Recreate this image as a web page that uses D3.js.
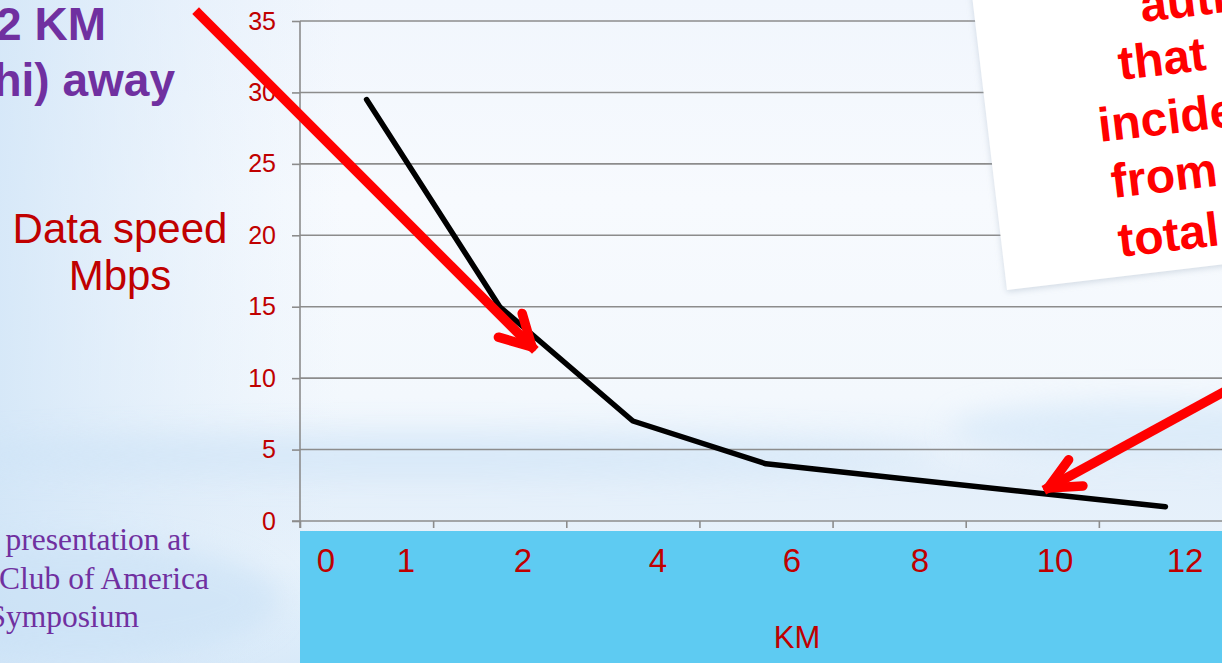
<!DOCTYPE html>
<html><head><meta charset="utf-8">
<script src="https://cdn.jsdelivr.net/npm/d3@7"></script>
<style>html,body{margin:0;padding:0;overflow:hidden;background:#eef5fc}</style>
</head><body>
<svg id="c" width="1222" height="663"></svg>
<script>
// ---- data ----
const categories = ["1","2","3","4","5","6","7"];
const speeds = [29.5, 15, 7, 4, 3, 2, 1];
const yTicks = [0, 5, 10, 15, 20, 25, 30, 35];
const kmValues = [0, 1, 2, 4, 6, 8, 10, 12];
const kmLabels = ["0", "1", "2", "4", "6", "8", "10", "12"];
const yTitle = ["Data speed", "Mbps"];
const xTitle = "KM";
const headLines = ["2 KM", "hi) away"];
const footLines = ["presentation at", "Club of America", "Symposium"];
const boxWords = ["auth", "that", "incide", "from", "total"];

const W = 1222, H = 663;
const svg = d3.select("#c");
const defs = svg.append("defs");
const SANS = "'Liberation Sans', Arial, sans-serif";
const SERIF = "'Liberation Serif', 'Times New Roman', serif";
const DARKRED = "#C00000", PURPLE = "#7030A0";

// ---- background ----
const bg = defs.append("linearGradient").attr("id","bg").attr("x1",0).attr("y1",0).attr("x2",0).attr("y2",1);
[[0,"#f1f6fd"],[0.3,"#f7fafe"],[0.6,"#f3f8fd"],[0.72,"#e4effa"],[0.85,"#e8f2fb"],[1,"#d9eaf9"]]
  .forEach(([o,c])=>bg.append("stop").attr("offset",o).attr("stop-color",c));
const lg = defs.append("linearGradient").attr("id","leftg").attr("x1",0).attr("y1",0).attr("x2",1).attr("y2",0);
[[0,"#cfe4f7",0.8],[0.28,"#dcebf9",0.0]].forEach(([o,c,a])=>lg.append("stop").attr("offset",o).attr("stop-color",c).attr("stop-opacity",a));
defs.append("filter").attr("id","blur").attr("x","-20%").attr("y","-200%").attr("width","140%").attr("height","500%")
  .append("feGaussianBlur").attr("stdDeviation",14);
const sh = defs.append("filter").attr("id","shadow").attr("x","-10%").attr("y","-10%").attr("width","130%").attr("height","130%");
sh.append("feDropShadow").attr("dx",0).attr("dy",2).attr("stdDeviation",3).attr("flood-color","#9aaabb").attr("flood-opacity",0.4);

svg.append("rect").attr("width",W).attr("height",H).attr("fill","url(#bg)");
svg.append("rect").attr("width",W).attr("height",H).attr("fill","url(#leftg)");
svg.append("ellipse").attr("cx",420).attr("cy",455).attr("rx",520).attr("ry",22).attr("fill","#cfe4f7").attr("opacity",0.6).attr("filter","url(#blur)");
svg.append("ellipse").attr("cx",1150).attr("cy",430).attr("rx",200).attr("ry",30).attr("fill","#d2e6f8").attr("opacity",0.6).attr("filter","url(#blur)");
svg.append("ellipse").attr("cx",80).attr("cy",600).attr("rx",200).attr("ry",60).attr("fill","#c9e1f6").attr("opacity",0.6).attr("filter","url(#blur)");

// ---- scales ----
const x = d3.scaleBand().domain(categories).range([300, 1232]).padding(0);
const xEdge = d3.scaleLinear().domain([0, categories.length]).range(x.range());
const y = d3.scaleLinear().domain([0, 35]).range([521, 21]);
const kmPos = d3.scaleLinear().domain([0, 1, 2, 4, 6, 8, 10, 12]).range([326, 406, 523, 658, 792, 920, 1055, 1185]);

const GRID = "#8c8c8c";
// gridlines
svg.append("g").selectAll("line").data(yTicks.filter(t=>t>0)).join("line")
  .attr("x1",300).attr("x2",W).attr("y1",d=>y(d)).attr("y2",d=>y(d))
  .attr("stroke",GRID).attr("stroke-width",1.6);

// y axis
const yAxis = svg.append("g").attr("transform","translate(300,0)")
  .call(d3.axisLeft(y).tickValues(yTicks).tickSize(8).tickPadding(16).tickSizeOuter(0));
yAxis.select(".domain").attr("stroke",GRID).attr("stroke-width",1.6).attr("d","M0,21V528");
yAxis.selectAll(".tick line").attr("stroke",GRID).attr("stroke-width",1.6);
yAxis.selectAll(".tick text").attr("fill",DARKRED).style("font-family",SANS).style("font-size","25px");

// x axis (ticks at band edges)
const xAxis = svg.append("g").attr("transform",`translate(0,${y(0)})`)
  .call(d3.axisBottom(xEdge).tickValues(d3.range(categories.length+1)).tickSize(7).tickFormat("").tickSizeOuter(0));
xAxis.select(".domain").attr("stroke",GRID).attr("stroke-width",1.6).attr("d",`M292,0H${W}`);
xAxis.selectAll(".tick line").attr("stroke",GRID).attr("stroke-width",1.6);

// data line
const pts = categories.map((c,i)=>({c, v: speeds[i]}));
svg.append("path").datum(pts)
  .attr("d", d3.line().x(d=>x(d.c)+x.bandwidth()/2).y(d=>y(d.v)))
  .attr("fill","none").attr("stroke","#000").attr("stroke-width",5.5)
  .attr("stroke-linecap","round").attr("stroke-linejoin","round");

// blue band with km labels
svg.append("rect").attr("x",300).attr("y",531).attr("width",W-300).attr("height",H-531).attr("fill","#5ECBF2");
svg.append("g").selectAll("text").data(kmValues).join("text")
  .attr("x",d=>kmPos(d)).attr("y",572).attr("text-anchor","middle")
  .attr("fill",DARKRED).style("font-family",SANS).style("font-size","33px")
  .text((d,i)=>kmLabels[i]);
svg.append("text").attr("x",797).attr("y",648).attr("text-anchor","middle")
  .attr("fill",DARKRED).style("font-family",SANS).style("font-size","31px").text(xTitle);

// y title
svg.append("g").selectAll("text").data(yTitle).join("text")
  .attr("x",120).attr("y",(d,i)=>243+i*47).attr("text-anchor","middle")
  .attr("fill",DARKRED).style("font-family",SANS).style("font-size","42px").text(d=>d);

// top-left headline (cropped)
svg.append("g").selectAll("text").data(headLines).join("text")
  .attr("x",(d,i)=>i===0?106:175).attr("y",(d,i)=>40+i*56).attr("text-anchor","end")
  .attr("fill",PURPLE).style("font-family",SANS).style("font-weight","bold").style("font-size","46px").text(d=>d);

// bottom-left footnote (cropped)
svg.append("g").selectAll("text").data(footLines).join("text")
  .attr("x",(d,i)=>[190,209,139][i]).attr("y",(d,i)=>550+i*38.5).attr("text-anchor","end")
  .attr("fill",PURPLE).style("font-family",SERIF).style("font-size","31.5px").text(d=>d);

// white rotated note box (cropped)
svg.append("polygon").attr("points","969,-30 1007,290 1250,261 1250,-60")
  .attr("fill","#ffffff").attr("filter","url(#shadow)");
const boxPos = [[1142,22],[1120,80],[1100,142],[1113,198],[1120,257]];
svg.append("g").selectAll("text").data(boxWords).join("text")
  .attr("transform",(d,i)=>`translate(${boxPos[i][0]},${boxPos[i][1]}) rotate(-6.7)`)
  .attr("fill","#FF0000").style("font-family",SANS).style("font-weight","bold").style("font-size","48px").text(d=>d);

// red arrows
function arrow(x1,y1,x2,y2,len,ang){
  const g = svg.append("g").attr("stroke","#FF0000").attr("stroke-width",9.5).attr("fill","none");
  g.append("line").attr("x1",x1).attr("y1",y1).attr("x2",x2).attr("y2",y2).attr("stroke-linecap","square");
  const back = Math.atan2(y1-y2, x1-x2);
  [back-ang, back+ang].forEach(a=>{
    g.append("line").attr("x1",x2).attr("y1",y2)
      .attr("x2",x2+len*Math.cos(a)).attr("y2",y2+len*Math.sin(a)).attr("stroke-linecap","round");
  });
}
arrow(199,14,532,347,35,0.5);
arrow(1240,383,1048,488,35,0.44);
</script>
</body></html>
